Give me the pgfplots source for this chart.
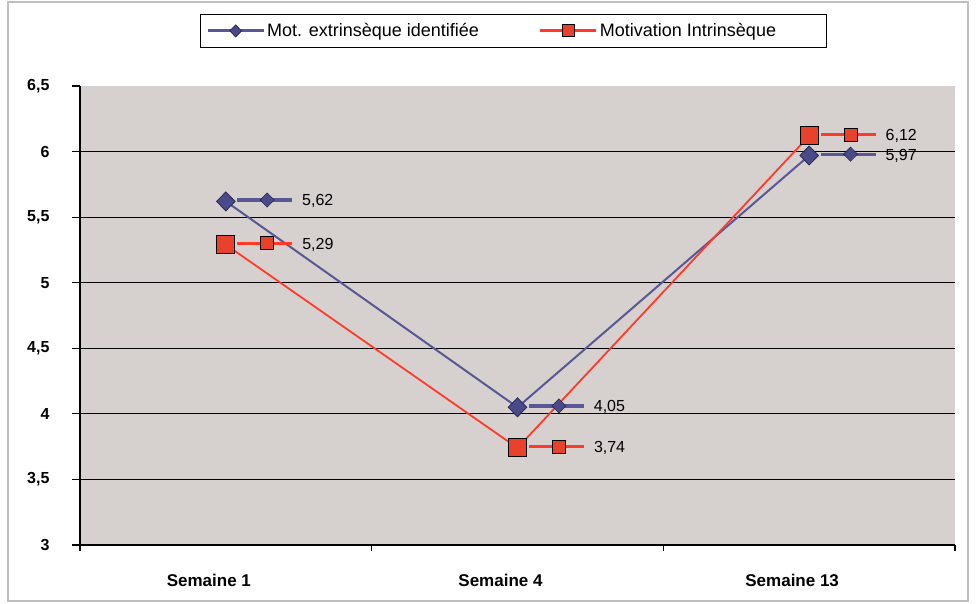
\documentclass[border=0pt]{standalone}
\usepackage{graphicx}
\usepackage{pgfplots}
\pgfplotsset{compat=1.18}
\usepackage{fontspec}
\setmainfont{Liberation Sans}
\definecolor{bgc}{HTML}{D6D0CE}
\definecolor{serA}{HTML}{5A5894}
\definecolor{serAfill}{HTML}{4A4A88}
\definecolor{serAedge}{HTML}{2A2A55}
\definecolor{serB}{HTML}{FF3A2A}
\definecolor{serBfill}{HTML}{E8412C}

\newcommand{\diamondA}{\rotatebox[origin=c]{45}{\setlength{\fboxrule}{0.8pt}\setlength{\fboxsep}{0pt}\fcolorbox{serAedge}{serAfill}{\rule{0pt}{9pt}\hspace{9pt}}}}
\newcommand{\squareB}{{\setlength{\fboxrule}{1pt}\setlength{\fboxsep}{0pt}\fcolorbox{black}{serBfill}{\rule{0pt}{12pt}\hspace{12pt}}}}
\newcommand{\keyA}{\raisebox{0.36em}{\makebox[55pt][l]{\raisebox{-1.75pt}[0pt][0pt]{\textcolor{serA}{\rule{55pt}{3.5pt}}}\hspace{-55pt}\hspace{22.5pt}\raisebox{-4.3pt}[0pt][0pt]{\diamondA}}}}
\newcommand{\keyB}{\raisebox{0.36em}{\makebox[55pt][l]{\raisebox{-1.5pt}[0pt][0pt]{\textcolor{serB}{\rule{55pt}{3pt}}}\hspace{-55pt}\hspace{23pt}\raisebox{-6pt}[0pt][0pt]{\squareB}}}}

\begin{document}
\begin{tikzpicture}
\begin{axis}[name=ax,
  scale only axis, width=875pt, height=459pt,
  xmin=0.5, xmax=3.5, ymin=3, ymax=6.5,
  axis background/.style={fill=bgc},
  axis x line*=bottom, axis y line*=left,
  axis line style={black, line width=1.5pt},
  xtick={1,2,3}, xticklabels={Semaine 1, Semaine 4, Semaine 13},
  major x tick style={draw=none},
  minor xtick={0.5,1.5,2.5,3.5},
  minor tick length=6pt,
  minor x tick style={black, line width=1.2pt},
  tick align=outside,
  ytick={3,3.5,4,4.5,5,5.5,6,6.5},
  major tick length=8pt,
  major y tick style={black, line width=1.2pt},
  extra y ticks={3.5,4,4.5,5,5.5,6},
  extra y tick labels={},
  extra y tick style={grid=major, major tick length=0pt},
  major grid style={black, line width=1.2pt},
  /pgf/number format/assume math mode=true,
  /pgf/number format/use comma,
  y tick label style={font=\bfseries\fontsize{16}{19}\selectfont, xshift=-19pt},
  x tick label style={font=\bfseries\fontsize{17}{20}\selectfont, yshift=-18pt, xshift=-17pt},
  clip=false,
  legend style={at={(0.495,1.12)}, anchor=center, legend columns=2, draw=black, line width=1pt,
    font=\fontsize{18}{21}\selectfont, inner xsep=6pt, inner ysep=7pt,
    /tikz/every even column/.append style={column sep=58pt}},
  legend image code/.code={\draw[mark repeat=2,mark phase=2,#1,mark size=6pt,line width=3pt] plot coordinates {(0pt,0pt)(28pt,0pt)(56pt,0pt)};},
  every node near coord/.append style={anchor=west, xshift=11pt, inner sep=0pt, font=\fontsize{16}{19}\selectfont, text=black},
]
\addplot[serA, line width=2pt, mark=diamond*, mark size=9.5pt,
  mark options={fill=serAfill, draw=serAedge, line width=0.8pt, xscale=1.3},
  nodes near coords={\keyA\hspace{10pt}\pgfmathprintnumber[use comma,fixed,precision=2,fixed zerofill]{\pgfplotspointmeta}}]
  coordinates {(1,5.62)(2,4.05)(3,5.97)};
\addlegendentry{Mot. extrinsèque identifiée}
\addplot[serB, line width=1.8pt, mark=square*, mark size=9pt,
  mark options={fill=serBfill, draw=black, line width=1pt},
  nodes near coords={\keyB\hspace{10pt}\pgfmathprintnumber[use comma,fixed,precision=2,fixed zerofill]{\pgfplotspointmeta}}]
  coordinates {(1,5.29)(2,3.74)(3,6.12)};
\addlegendentry{Motivation Intrinsèque\makebox[42pt]{}}
\end{axis}
\draw[gray!50, line width=1.2pt] ([shift={(-72pt,-56pt)}]ax.south west) rectangle ([shift={(13pt,84pt)}]ax.north east);
\pgfresetboundingbox
\useasboundingbox ([shift={(-80pt,-59pt)}]ax.south west) rectangle ([shift={(21pt,86pt)}]ax.north east);
\end{tikzpicture}
\end{document}
